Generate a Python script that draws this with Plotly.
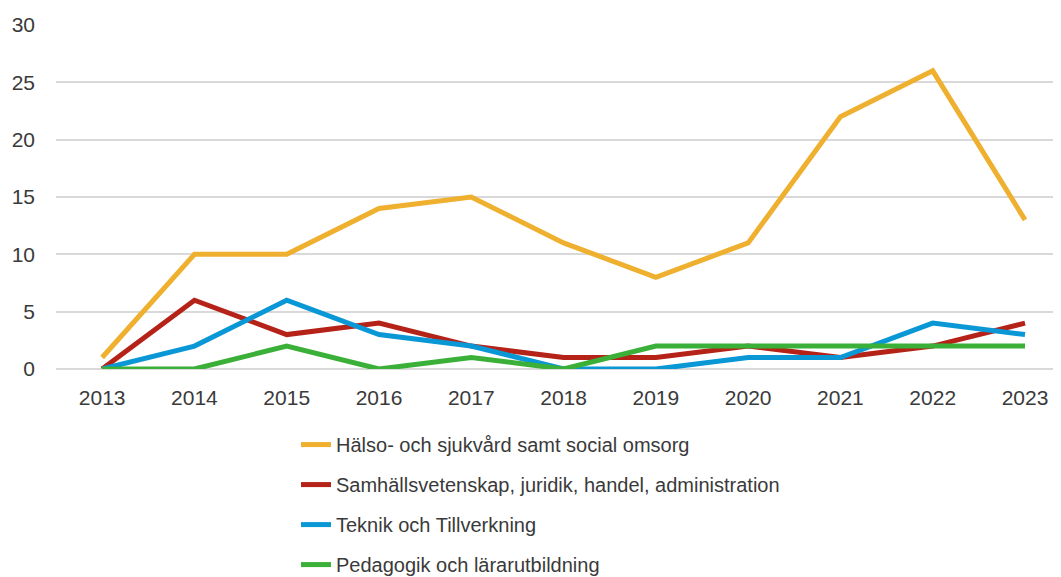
import plotly.graph_objects as go

years = ["2013", "2014", "2015", "2016", "2017", "2018", "2019", "2020", "2021", "2022", "2023"]
halso = [1, 10, 10, 14, 15, 11, 8, 11, 22, 26, 13]
samhall = [0, 6, 3, 4, 2, 1, 1, 2, 1, 2, 4]
teknik = [0, 2, 6, 3, 2, 0, 0, 1, 1, 4, 3]
pedagogik = [0, 0, 2, 0, 1, 0, 2, 2, 2, 2, 2]

series = [
    ("Hälso- och sjukvård samt social omsorg", halso, "#EFB02F"),
    ("Samhällsvetenskap, juridik, handel, administration", samhall, "#B52218"),
    ("Teknik och Tillverkning", teknik, "#0A97D6"),
    ("Pedagogik och lärarutbildning", pedagogik, "#3BB038"),
]

fig = go.Figure()
for i, (name, vals, col) in enumerate(series):
    fig.add_trace(go.Scatter(x=years, y=vals, name=name, mode="lines",
                             line=dict(color=col, width=5),
                             legendgroup=f"g{i}"))

W, H = 1053, 569
font = "Liberation Sans, Arial, sans-serif"
fig.update_layout(
    width=W, height=H,
    margin=dict(l=48, r=0, t=17, b=208, autoexpand=False),
    plot_bgcolor="white", paper_bgcolor="white",
    font=dict(family=font, size=21, color="#3A3A3A"),
    showlegend=True,
    legend=dict(orientation="v", x=288 / W, xref="container", xanchor="left",
                yref="container", y=0.267, yanchor="top",
                font=dict(size=20, color="#3A3A3A"), tracegroupgap=11,
                bgcolor="rgba(0,0,0,0)"),
    xaxis=dict(type="category", range=[-0.5, 10.39], showgrid=False, automargin=False,
               showline=False, ticks="", ticklabelstandoff=14,
               tickfont=dict(size=21, color="#3A3A3A")),
    yaxis=dict(range=[0, 30], dtick=5, showgrid=True, gridcolor="#D9D9D9", automargin=False,
               gridwidth=1.5, zeroline=True, zerolinecolor="#D9D9D9", zerolinewidth=1.5,
               showline=False, ticks="", ticklabelstandoff=20,
               tickfont=dict(size=21, color="#3A3A3A")),
)

fig.write_html("out.html")
